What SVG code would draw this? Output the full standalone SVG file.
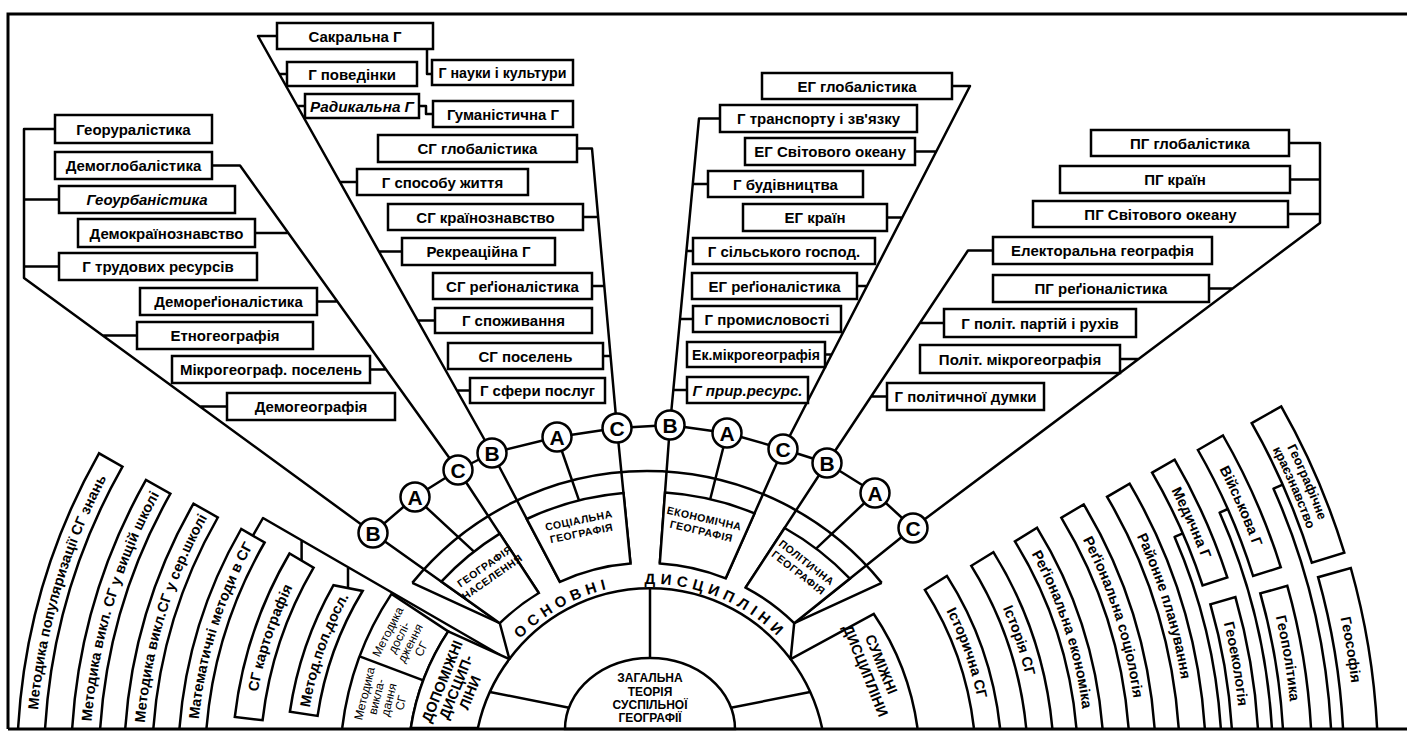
<svg xmlns="http://www.w3.org/2000/svg" width="1407" height="733" viewBox="0 0 1407 733">
<defs>
<style>
.b{fill:#fff;stroke:#000;stroke-width:2.5}
.l{fill:none;stroke:#000;stroke-width:2.5;stroke-linejoin:round}
.f{fill:none;stroke:#000;stroke-width:3}
text{font-family:"Liberation Sans",Arial,"Noto Sans",sans-serif;fill:#000}
.t{font-size:15px;font-weight:bold;text-anchor:middle}
.k{font-size:14.5px;font-weight:bold;text-anchor:middle}
.i{font-style:italic}
.c{font-size:21px;font-weight:bold;text-anchor:middle}
.d{font-size:10.5px;font-weight:bold;text-anchor:middle;letter-spacing:0.5px}
.m{font-size:12px;text-anchor:middle}
.z{font-size:12px;font-weight:bold;text-anchor:middle}
.o{font-size:15px;font-weight:bold;text-anchor:middle;letter-spacing:5px}
</style>
<path id="pL1" d="M36.6,727.5 A614.5,614.5 0 0 1 115.2,462.4"/>
<path id="pL2" d="M91.2,727.9 A560,560 0 0 1 162.6,489.2"/>
<path id="pL3" d="M144.4,727.9 A507,507 0 0 1 210,513"/>
<path id="pL4" d="M198,727.8 A453.5,453.5 0 0 1 257.3,538.2"/>
<path id="pL5" d="M253.6,719.1 A399,399 0 0 1 305.9,563.1"/>
<path id="pL6" d="M308.7,714.6 A345,345 0 0 1 352.4,590.4"/>
<path id="pR1" d="M931.7,585.5 A334,334 0 0 1 981.9,727.8"/>
<path id="pR2" d="M978.1,561.6 A386,386 0 0 1 1034.2,728"/>
<path id="pR3" d="M1021.8,537.2 A436,436 0 0 1 1084.4,728"/>
<path id="pR4" d="M1068.3,513.7 A488,488 0 0 1 1136.6,728"/>
<path id="pR5" d="M1114,492.8 A538,538 0 0 1 1186.7,728"/>
<path id="pR6u" d="M1159.1,468.7 A589,589 0 0 1 1210.2,583"/>
<path id="pR6l" d="M1218.1,602.1 A591,591 0 0 1 1239.8,728"/>
<path id="pR7u" d="M1206.1,445.2 A641.5,641.5 0 0 1 1262.1,573.2"/>
<path id="pR7l" d="M1269,591 A643,643 0 0 1 1291.9,728"/>
<path id="pR8a" d="M1269.1,413.3 A712,712 0 0 1 1330.9,556.8"/>
<path id="pR8b" d="M1256.9,420.2 A698,698 0 0 1 1317.5,560.9"/>
<path id="pR8l" d="M1329.7,574 A706,706 0 0 1 1355,728"/>
<path id="pO" d="M511.3,648.7 A181,181 0 0 1 788.7,648.7"/>
</defs>
<rect width="1407" height="733" fill="#fff"/>

<g id="connectors" class="l">
<path d="M373,533 L415,497 L458,470 L492,453 L557,437 L617,428 L670,425 L727,433 L783,449 L827,463 L875,493 L913,528"/>
<path d="M373,533 L499.8,623.2 M415,497 L474,551.6 M458,470 L538.8,593 M492,453 L559.9,581.9 M557,437 L579,500.3 M617,428 L630.5,563.6 M670,425 L659.8,563.4 M727,433 L710.2,499.2 M783,449 L725.7,578.3 M827,463 L745.6,587.6 M875,493 L816.1,548.6 M913,528 L794.2,623.2"/>
<path d="M412.3,582.9 A302,302 0 0 1 881.7,582.9"/>
<path d="M412.3,582.9 L499.8,623.2 L509.4,659.1 A175,175 0 0 1 790.6,659.1 L794.2,623.2 L881.7,582.9"/>
<path d="M650,588.3 V662 M489.9,692 L570.4,708 M810.1,692 L729.6,708"/>
<path d="M55,129 H24 V278 L373,533 M24,199.5 H59 M24,266.5 H59 M102.7,335.5 H137 M199.9,406.5 H227"/>
<path d="M212,165.5 H240 L458,470 M255,233 H288.3 M317,301.5 H337.4 M370,369.5 H386"/>
<path d="M277,36 H258 L492,453 M279.3,74 H287 M297.3,106 H305 M339.9,182 H357 M378.7,251.5 H402 M417.6,320.5 H435 M456.8,390.5 H470"/>
<path d="M427,49 V74 H432 M419,106 H426 V114 H433"/>
<path d="M577,148.5 H592 L617,428 M583,217 H598.1 M592,286 H604.3 M603,356 H610.6"/>
<path d="M720,118.5 H699 L670,425 M692.8,184 H708 M686.5,251 H693 M680,319 H693 M673.3,390 H687"/>
<path d="M952,86 H970 L783,449 M915,151.5 H936.3 M887,217.5 H902.3 M857,286 H867 M825,354.5 H831.7"/>
<path d="M1289,143 H1320 V223 L913,528 M1290,179.5 H1320 M1288,214 H1320 M1209,288.5 H1232.6 M1120,359 H1138.6"/>
<path d="M993,250.5 H968 L827,463 M919.9,323 H944 M871.1,396.5 H887"/>
<path d="M252.9,535.7 L263,518 L500,655 M301.6,540.3 V560.6 M348,567.1 V588"/>
<path d="M1182.8,533.3 L1174.6,536.9 A572,572 0 0 1 1220.8,728 M1227.8,509 L1219.6,512.6 A623,623 0 0 1 1271.9,728 M1282.7,484.6 L1273.5,488.7 A682,682 0 0 1 1331,728"/>
</g>

<g id="circles">
<g id="c1"><circle class="b" cx="373" cy="533" r="14.5"/><text class="c" x="373" y="540.5">B</text></g>
<g id="c2"><circle class="b" cx="415" cy="497" r="14.5"/><text class="c" x="415" y="504.5">A</text></g>
<g id="c3"><circle class="b" cx="458" cy="470" r="14.5"/><text class="c" x="458" y="477.5">C</text></g>
<g id="c4"><circle class="b" cx="492" cy="453" r="14.5"/><text class="c" x="492" y="460.5">B</text></g>
<g id="c5"><circle class="b" cx="557" cy="437" r="14.5"/><text class="c" x="557" y="444.5">A</text></g>
<g id="c6"><circle class="b" cx="617" cy="428" r="14.5"/><text class="c" x="617" y="435.5">C</text></g>
<g id="c7"><circle class="b" cx="670" cy="425" r="14.5"/><text class="c" x="670" y="432.5">B</text></g>
<g id="c8"><circle class="b" cx="727" cy="433" r="14.5"/><text class="c" x="727" y="440.5">A</text></g>
<g id="c9"><circle class="b" cx="783" cy="449" r="14.5"/><text class="c" x="783" y="456.5">C</text></g>
<g id="c10"><circle class="b" cx="827" cy="463" r="14.5"/><text class="c" x="827" y="470.5">B</text></g>
<g id="c11"><circle class="b" cx="875" cy="493" r="14.5"/><text class="c" x="875" y="500.5">A</text></g>
<g id="c12"><circle class="b" cx="913" cy="528" r="14.5"/><text class="c" x="913" y="535.5">C</text></g>
</g>

<g id="d-pop"><path class="b" d="M441.3,581.6 A281,281 0 0 1 499.8,533.6 L538.8,593 A210,210 0 0 0 499.8,623.2 Z"/>
<text class="d" transform="translate(488,571) rotate(-35)"><tspan x="0" y="-2">ГЕОГРАФІЯ</tspan><tspan x="0" y="11">НАСЕЛЕННЯ</tspan></text></g>
<g id="d-soc"><path class="b" d="M526.8,519 A281,281 0 0 1 623.5,493 L630.5,563.6 A210,210 0 0 0 559.9,581.9 Z"/>
<text class="d" transform="translate(580,526) rotate(-11.5)"><tspan x="0" y="-2">СОЦІАЛЬНА</tspan><tspan x="0" y="11">ГЕОГРАФІЯ</tspan></text></g>
<g id="d-eco"><path class="b" d="M665,492.6 A281,281 0 0 1 754.5,513.4 L725.7,578.3 A210,210 0 0 0 659.8,563.4 Z"/>
<text class="d" transform="translate(703,524) rotate(13)"><tspan x="0" y="-2">ЕКОНОМІЧНА</tspan><tspan x="0" y="11">ГЕОГРАФІЯ</tspan></text></g>
<g id="d-pol"><path class="b" d="M784.6,528 A281,281 0 0 1 849.9,578.6 L794.2,623.2 A210,210 0 0 0 745.6,587.6 Z"/>
<text class="d" transform="translate(803,567) rotate(38)"><tspan x="0" y="-2">ПОЛІТИЧНА</tspan><tspan x="0" y="11">ГЕОГРАФІЯ</tspan></text></g>

<g id="osnovni">
<text class="o"><textPath href="#pO" startOffset="66">ОСНОВНІ</textPath></text>
<text class="o"><textPath href="#pO" startOffset="228">ДИСЦИПЛІНИ</textPath></text>
</g>

<g id="zagalna"><path class="b" d="M565,729 A85,71 0 0 1 735,729 Z"/>
<text class="z" x="650" y="682">ЗАГАЛЬНА</text><text class="z" x="650" y="696">ТЕОРІЯ</text><text class="z" x="650" y="709">СУСПІЛЬНОЇ</text><text class="z" x="650" y="722">ГЕОГРАФІЇ</text></g>

<g id="pop-topics">
<g id="p1"><rect class="b" x="55" y="115" width="157" height="28"/><text class="t" x="133.5" y="134.5">Георуралістика</text></g>
<g id="p2"><rect class="b" x="55" y="152" width="157" height="27"/><text class="t" x="133.5" y="171">Демоглобалістика</text></g>
<g id="p3"><rect class="b" x="59" y="186" width="176" height="27"/><text class="t i" x="147" y="205">Геоурбаністика</text></g>
<g id="p4"><rect class="b" x="78" y="219" width="177" height="28"/><text class="t" x="166.5" y="238.5">Демокраїнознавство</text></g>
<g id="p5"><rect class="b" x="59" y="253" width="198" height="27"/><text class="t" x="158" y="272">Г трудових ресурсів</text></g>
<g id="p6"><rect class="b" x="140" y="288" width="177" height="27"/><text class="t" x="228.5" y="307">Демореґіоналістика</text></g>
<g id="p7"><rect class="b" x="137" y="322" width="176" height="27"/><text class="t" x="225" y="341">Етногеографія</text></g>
<g id="p8"><rect class="b" x="172" y="356" width="198" height="27"/><text class="t" x="271" y="375">Мікрогеограф. поселень</text></g>
<g id="p9"><rect class="b" x="227" y="393" width="168" height="27"/><text class="t" x="311" y="412">Демогеографія</text></g>
</g>

<g id="soc-topics">
<g id="s1"><rect class="b" x="277" y="23" width="156" height="26"/><text class="t" x="355" y="41.5">Сакральна Г</text></g>
<g id="s2"><rect class="b" x="287" y="62" width="130" height="24"/><text class="t" x="352" y="79.5">Г поведінки</text></g>
<g id="s3"><rect class="b" x="432" y="60" width="141" height="25"/><text class="t" x="502.5" y="78" textLength="128" lengthAdjust="spacingAndGlyphs">Г науки і культури</text></g>
<g id="s4"><rect class="b" x="305" y="94" width="114" height="24"/><text class="t i" x="362" y="111.5" textLength="104" lengthAdjust="spacingAndGlyphs">Радикальна Г</text></g>
<g id="s5"><rect class="b" x="433" y="101" width="140" height="26"/><text class="t" x="503" y="119.5">Гуманістична Г</text></g>
<g id="s6"><rect class="b" x="378" y="135" width="199" height="27"/><text class="t" x="477.5" y="154">СГ глобалістика</text></g>
<g id="s7"><rect class="b" x="357" y="169" width="171" height="26"/><text class="t" x="442.5" y="187.5">Г способу життя</text></g>
<g id="s8"><rect class="b" x="388" y="204" width="195" height="26"/><text class="t" x="485.5" y="222.5">СГ країнознавство</text></g>
<g id="s9"><rect class="b" x="402" y="238" width="153" height="27"/><text class="t" x="478.5" y="257">Рекреаційна Г</text></g>
<g id="s10"><rect class="b" x="433" y="273" width="159" height="26"/><text class="t" x="512.5" y="291.5">СГ реґіоналістика</text></g>
<g id="s11"><rect class="b" x="435" y="308" width="157" height="25"/><text class="t" x="513.5" y="326">Г споживання</text></g>
<g id="s12"><rect class="b" x="448" y="343" width="155" height="26"/><text class="t" x="525.5" y="361.5">СГ поселень</text></g>
<g id="s13"><rect class="b" x="470" y="378" width="135" height="25"/><text class="t" x="537.5" y="396">Г сфери послуг</text></g>
</g>

<g id="eco-topics">
<g id="e1"><rect class="b" x="762" y="73" width="190" height="26"/><text class="t" x="857" y="91.5">ЕГ глобалістика</text></g>
<g id="e2"><rect class="b" x="720" y="105" width="197" height="27"/><text class="t" x="818.5" y="124">Г транспорту і зв'язку</text></g>
<g id="e3"><rect class="b" x="745" y="138" width="170" height="27"/><text class="t" x="830" y="157">ЕГ Світового океану</text></g>
<g id="e4"><rect class="b" x="708" y="171" width="155" height="26"/><text class="t" x="785.5" y="189.5">Г будівництва</text></g>
<g id="e5"><rect class="b" x="743" y="204" width="144" height="27"/><text class="t" x="815" y="223">ЕГ країн</text></g>
<g id="e6"><rect class="b" x="693" y="238" width="182" height="26"/><text class="t" x="784" y="256.5">Г сільського  господ.</text></g>
<g id="e7"><rect class="b" x="692" y="273" width="165" height="26"/><text class="t" x="774.5" y="291.5">ЕГ реґіоналістика</text></g>
<g id="e8"><rect class="b" x="693" y="306" width="148" height="26"/><text class="t" x="767" y="324.5">Г промисловості</text></g>
<g id="e9"><rect class="b" x="687" y="342" width="138" height="25"/><text class="t" x="756" y="360" textLength="128" lengthAdjust="spacingAndGlyphs">Ек.мікрогеографія</text></g>
<g id="e10"><rect class="b" x="687" y="377" width="121" height="26"/><text class="t i" x="747.5" y="395.5">Г прир.ресурс.</text></g>
</g>

<g id="pol-topics">
<g id="q1"><rect class="b" x="1091" y="130" width="198" height="26"/><text class="t" x="1190" y="148.5">ПГ глобалістика</text></g>
<g id="q2"><rect class="b" x="1060" y="166" width="230" height="27"/><text class="t" x="1175" y="185">ПГ країн</text></g>
<g id="q3"><rect class="b" x="1033" y="201" width="255" height="26"/><text class="t" x="1160.5" y="219.5">ПГ Світового океану</text></g>
<g id="q4"><rect class="b" x="993" y="237" width="219" height="27"/><text class="t" x="1102.5" y="256">Електоральна географія</text></g>
<g id="q5"><rect class="b" x="993" y="275" width="216" height="27"/><text class="t" x="1101" y="294">ПГ реґіоналістика</text></g>
<g id="q6"><rect class="b" x="944" y="309" width="192" height="28"/><text class="t" x="1040" y="328.5">Г політ. партій і рухів</text></g>
<g id="q7"><rect class="b" x="920" y="345" width="200" height="28"/><text class="t" x="1020" y="364.5">Політ. мікрогеографія</text></g>
<g id="q8"><rect class="b" x="887" y="383" width="157" height="27"/><text class="t" x="965.5" y="402">Г політичної думки</text></g>
</g>

<g id="aux">
<g id="a1"><path class="b" d="M18.1,728 A633,633 0 0 1 99,453.3 L122.5,466.6 A606,606 0 0 0 45.1,728"/><text class="k"><textPath href="#pL1" startOffset="50%">Методика популяризації СГ знань</textPath></text></g>
<g id="a2"><path class="b" d="M72.2,728 A579,579 0 0 1 146,479.9 L170.4,493.7 A551,551 0 0 0 100.2,728"/><text class="k"><textPath href="#pL2" startOffset="50%">Методика викл. СГ у вищій школі</textPath></text></g>
<g id="a3"><path class="b" d="M125.3,728 A526,526 0 0 1 193.5,503.6 L217.8,517.5 A498,498 0 0 0 153.4,728"/><text class="k"><textPath href="#pL3" startOffset="50%">Методика викл.СГ у сер.школі</textPath></text></g>
<g id="a4"><path class="b" d="M179.5,728 A472,472 0 0 1 241.2,529 L264.6,542.5 A445,445 0 0 0 206.5,728"/><text class="k"><textPath href="#pL4" startOffset="50%">Математичні методи в СГ</textPath></text></g>
<g id="a5"><path class="b" d="M234.8,717 A418,418 0 0 1 289.5,553.5 L313.6,567.7 A390,390 0 0 0 262.6,720.2 Z"/><text class="k"><textPath href="#pL5" startOffset="50%">СГ картографія</textPath></text></g>
<g id="a6"><path class="b" d="M289.9,711.8 A364,364 0 0 1 333.5,585.2 L362.6,591 A336,336 0 0 0 317.6,715.9 Z"/><text class="k"><textPath href="#pL6" startOffset="50%">Метод.пол.досл.</textPath></text></g>
<g id="a7"><path class="b" d="M342.2,728 A310,310 0 0 1 391.5,593.9 L448.2,631.4 A242,242 0 0 0 410.8,728"/><path class="l" d="M359.6,656.4 L423.3,680.3"/>
<text class="m" transform="translate(382,698) rotate(-76)"><tspan x="0" y="-14">Методика</tspan><tspan x="0" y="-1.5">викла-</tspan><tspan x="0" y="11">дання</tspan><tspan x="0" y="23.5">СГ</tspan></text>
<text class="m" transform="translate(404,640) rotate(-63)"><tspan x="0" y="-14">Методика</tspan><tspan x="0" y="-1.5">дослі-</tspan><tspan x="0" y="11">дження</tspan><tspan x="0" y="23.5">СГ</tspan></text></g>
<g id="a8"><path class="b" d="M448.2,631.4 L509.4,659.1 A176,176 0 0 0 477.9,728 L410.8,728 A242,242 0 0 1 448.2,631.4 Z"/>
<text class="k" transform="translate(456,687) rotate(-68)"><tspan x="0" y="-10">ДОПОМІЖНІ</tspan><tspan x="0" y="5">ДИСЦИП-</tspan><tspan x="0" y="20">ЛІНИ</tspan></text></g>
</g>

<g id="related">
<g id="r0"><path class="b" d="M822.1,728 A176,176 0 0 0 790.6,659.1 L873.8,614 A270,270 0 0 1 917.5,728"/>
<text class="k" transform="translate(872,668) rotate(68)"><tspan x="0" y="-5">СУМІЖНІ</tspan><tspan x="0" y="12">ДИСЦИПЛІНИ</tspan></text></g>
<g id="r1"><path class="b" d="M973.9,728 A326,326 0 0 0 924.9,589.8 L946.9,575.9 A352,352 0 0 1 1000.05,728"/><text class="k"><textPath href="#pR1" startOffset="50%">Історична СГ</textPath></text></g>
<g id="r2"><path class="b" d="M1026.2,728 A378,378 0 0 0 971.3,565.8 L993.4,552.1 A404,404 0 0 1 1052.3,728"/><text class="k"><textPath href="#pR2" startOffset="50%">Історія СГ</textPath></text></g>
<g id="r3"><path class="b" d="M1076.4,728 A428,428 0 0 0 1014.9,541.4 L1037.1,527.8 A454,454 0 0 1 1102.5,728"/><text class="k"><textPath href="#pR3" startOffset="50%">Реґіональна економіка</textPath></text></g>
<g id="r4"><path class="b" d="M1128.6,728 A480,480 0 0 0 1061.4,517.8 L1083.7,504.4 A506,506 0 0 1 1154.6,728"/><text class="k"><textPath href="#pR4" startOffset="50%">Реґіональна соціологія</textPath></text></g>
<g id="r5"><path class="b" d="M1178.7,728 A530,530 0 0 0 1107.1,496.8 L1129.6,483.6 A556,556 0 0 1 1204.8,728"/><text class="k"><textPath href="#pR5" startOffset="50%">Районне планування</textPath></text></g>
<g id="r6"><path class="b" d="M1152.1,472.7 L1174.6,459.7 A607,607 0 0 1 1227.3,577.4 L1202.6,585.5 A581,581 0 0 0 1152.1,472.7 Z"/><text class="k"><textPath href="#pR6u" startOffset="50%">Медична Г</textPath></text></g>
<g id="r7"><path class="b" d="M1231.8,728 A583,583 0 0 0 1210.4,604.3 L1235.4,597.1 A609,609 0 0 1 1257.9,728"/><text class="k"><textPath href="#pR6l" startOffset="50%">Геоекологія</textPath></text></g>
<g id="r8"><path class="b" d="M1197.9,450 L1223,435.5 A661,661 0 0 1 1280.8,567.3 L1253.1,576 A632,632 0 0 0 1197.9,450 Z"/><text class="k"><textPath href="#pR7u" startOffset="50%">Військова Г</textPath></text></g>
<g id="r9"><path class="b" d="M1282.9,728 A634,634 0 0 0 1260.3,593.4 L1287.3,585.9 A662,662 0 0 1 1311,728"/><text class="k"><textPath href="#pR7l" startOffset="50%">Геополітика</textPath></text></g>
<g id="r10"><path class="b" d="M1251.7,423.2 L1281.2,406.4 A726,726 0 0 1 1344.3,552.7 L1311.8,562.7 A692,692 0 0 0 1251.7,423.2 Z"/><text class="k" style="font-size:13px"><textPath href="#pR8a" startOffset="50%">Географічне</textPath></text><text class="k" style="font-size:13px"><textPath href="#pR8b" startOffset="50%">краєзнавство</textPath></text></g>
<g id="r11"><path class="b" d="M1343,728 A694,694 0 0 0 1318.1,577.2 L1350.8,568 A728,728 0 0 1 1377.1,728"/><text class="k"><textPath href="#pR8l" startOffset="50%">Геософія</textPath></text></g>
</g>

<path class="f" d="M8,729 V14 H1407 M8,729 H1407"/>
</svg>
